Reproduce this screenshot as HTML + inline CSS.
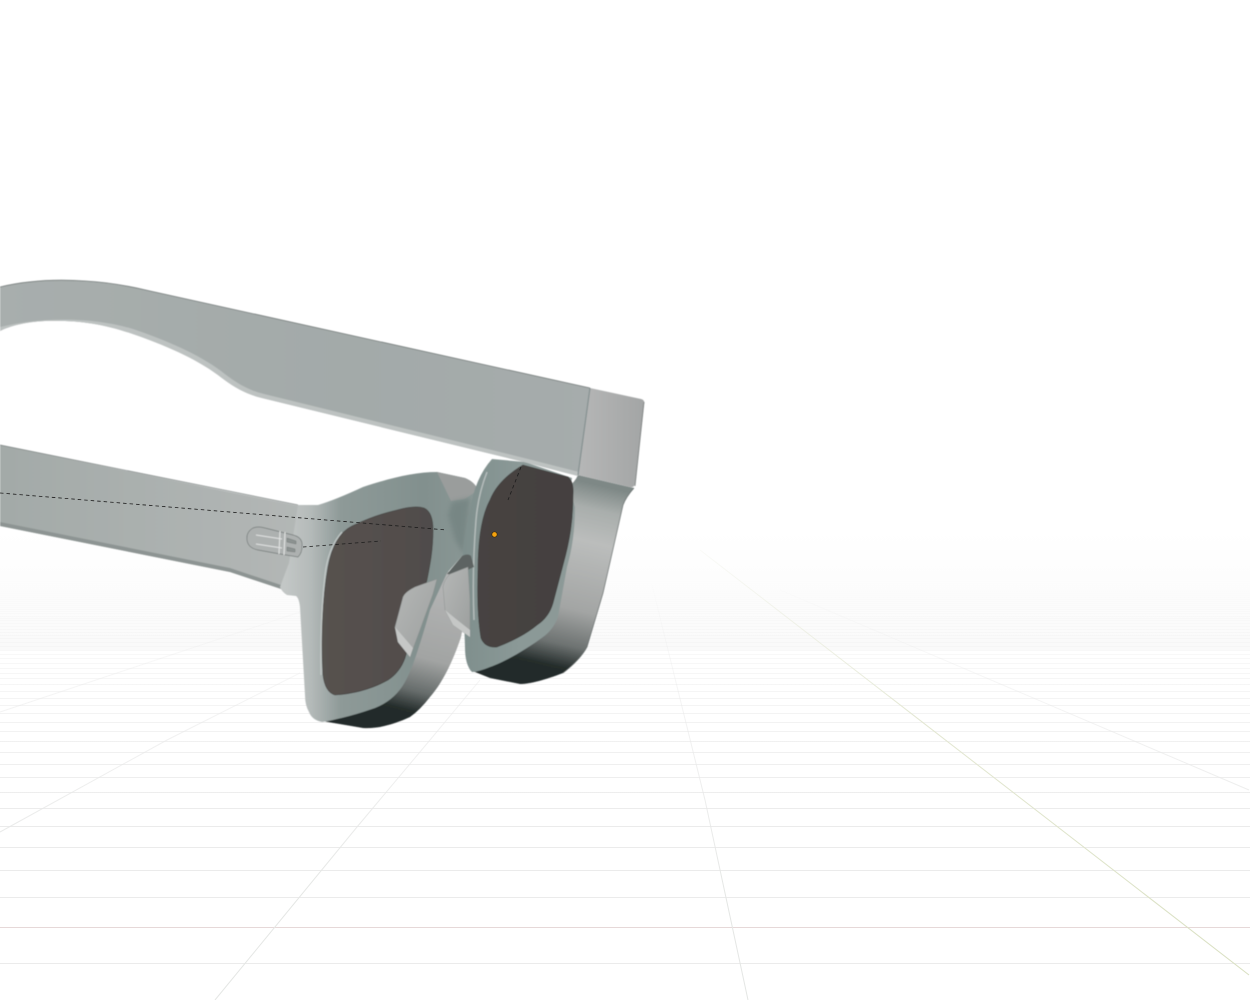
<!DOCTYPE html>
<html><head><meta charset="utf-8"><style>html,body{margin:0;padding:0;background:#fff}svg{display:block}</style></head>
<body>
<svg width="1250" height="1000" viewBox="0 0 1250 1000" xmlns="http://www.w3.org/2000/svg">
<defs>
<linearGradient id="fade" gradientUnits="userSpaceOnUse" x1="0" y1="575" x2="0" y2="830"><stop offset="0" stop-color="#efefef" stop-opacity="0"/><stop offset=".3" stop-color="#eee" stop-opacity=".4"/><stop offset=".7" stop-color="#eee" stop-opacity=".9"/><stop offset="1" stop-color="#ebebeb"/></linearGradient>
<linearGradient id="rad" gradientUnits="userSpaceOnUse" x1="0" y1="570" x2="0" y2="900"><stop offset="0" stop-color="#e8e8e8" stop-opacity="0"/><stop offset=".5" stop-color="#e8e8e8" stop-opacity=".6"/><stop offset="1" stop-color="#e4e6e4"/></linearGradient>
<linearGradient id="green" gradientUnits="userSpaceOnUse" x1="700" y1="550" x2="1249" y2="975"><stop offset="0" stop-color="#e8ebdc" stop-opacity=".2"/><stop offset=".4" stop-color="#e3e7d2"/><stop offset="1" stop-color="#d8dfc0"/></linearGradient>
<linearGradient id="haze" x1="0" y1="0" x2="0" y2="1"><stop offset="0" stop-color="#fff"/><stop offset="1" stop-color="#fafafa"/></linearGradient>
<linearGradient id="arm" x1="0" y1="0" x2="1" y2="0"><stop offset="0" stop-color="#a8aead"/><stop offset=".6" stop-color="#a3aaa9"/><stop offset="1" stop-color="#a6acac"/></linearGradient>
<linearGradient id="temple" x1="0" y1="0" x2="1" y2="0"><stop offset="0" stop-color="#a3aaa8"/><stop offset="1" stop-color="#b3b7b6"/></linearGradient>
<linearGradient id="cap" x1="0" y1="0" x2="1" y2="0"><stop offset="0" stop-color="#b6b7b7"/><stop offset="1" stop-color="#a3a5a5"/></linearGradient>
<linearGradient id="sideR" gradientUnits="userSpaceOnUse" x1="598" y1="485" x2="552" y2="684"><stop offset="0" stop-color="#7e8886"/><stop offset=".12" stop-color="#a9aeac"/><stop offset=".28" stop-color="#bbbdbc"/><stop offset=".62" stop-color="#a3a5a4"/><stop offset=".8" stop-color="#6d7271"/><stop offset=".91" stop-color="#252d2c"/><stop offset="1" stop-color="#222a29"/></linearGradient>
<linearGradient id="sideL" gradientUnits="userSpaceOnUse" x1="445" y1="590" x2="410" y2="728"><stop offset="0" stop-color="#b2b3b3"/><stop offset=".5" stop-color="#a2a4a3"/><stop offset=".74" stop-color="#666c6b"/><stop offset=".88" stop-color="#252d2c"/><stop offset="1" stop-color="#222a29"/></linearGradient>
<linearGradient id="frontL" gradientUnits="userSpaceOnUse" x1="285" y1="0" x2="470" y2="0"><stop offset="0" stop-color="#c3c7c6"/><stop offset=".14" stop-color="#b4bab9"/><stop offset=".3" stop-color="#8e9a98"/><stop offset=".75" stop-color="#82908e"/><stop offset="1" stop-color="#8a9795"/></linearGradient>
<linearGradient id="frontR" x1="0" y1="0" x2="1" y2="0"><stop offset="0" stop-color="#7f8f8d"/><stop offset=".5" stop-color="#8b9997"/><stop offset="1" stop-color="#8d9a98"/></linearGradient>
<linearGradient id="lensL" x1="0" y1="0" x2="1" y2="0"><stop offset="0" stop-color="#57524f"/><stop offset="1" stop-color="#504c4b"/></linearGradient>
<linearGradient id="lensR" x1="0" y1="0" x2="1" y2="0"><stop offset="0" stop-color="#474342"/><stop offset="1" stop-color="#444140"/></linearGradient>
<linearGradient id="pad" x1="0" y1="0" x2="1" y2="1"><stop offset="0" stop-color="#b5b7b6"/><stop offset="1" stop-color="#9c9f9e"/></linearGradient>
<filter id="soft" x="-5%" y="-5%" width="110%" height="110%"><feGaussianBlur stdDeviation=".5"/></filter>
<filter id="soft2" x="-30%" y="-30%" width="160%" height="160%"><feGaussianBlur stdDeviation="2.500"/></filter>
</defs>

<rect width="1250" height="1000" fill="#fff"/>
<rect y="530" width="1250" height="120" fill="url(#haze)"/>

<!-- floor grid -->
<g fill="none" stroke="url(#fade)" stroke-width="1">
<path d="M0 963.5H1250M0 897.5H1250M0 870.5H1250M0 847.5H1250M0 826.5H1250M0 808.5H1250M0 792.5H1250M0 777.5H1250M0 764.5H1250M0 752.5H1250M0 741.5H1250M0 731.5H1250M0 722.5H1250M0 713.5H1250M0 705.5H1250M0 698.5H1250M0 691.5H1250M0 684.5H1250M0 678.5H1250M0 673.5H1250M0 668.5H1250M0 663.5H1250M0 658.5H1250M0 654.5H1250M0 650.5H1250M0 646.5H1250M0 642.5H1250M0 638.5H1250M0 635.5H1250M0 632.5H1250M0 629.5H1250M0 626.5H1250M0 623.5H1250M0 620.5H1250M0 618.5H1250M0 616.5H1250M0 613.5H1250M0 611.5H1250M0 609.5H1250M0 607.5H1250M0 605.5H1250M0 603.5H1250M0 601.5H1250M0 599.5H1250M0 597.5H1250M0 595.5H1250M0 593.5H1250M0 591.5H1250M0 589.5H1250M0 587.5H1250M0 585.5H1250M0 583.5H1250M0 581.5H1250"/>
</g>
<path d="M0 927.5H1250" stroke="#e6d8d8" stroke-width="1"/>
<g fill="none" stroke="url(#rad)" stroke-width="1">
<path d="M215 1000L357 827L430 740L480 680"/>
<path d="M0 832L167 740L300 673"/>
<path d="M0 712L300 612"/>
<path d="M748 1000L705 800L652 585"/>
<path d="M1249 790L780 590"/>
</g>
<path d="M700 550L1249 975" stroke="url(#green)" stroke-width="1" fill="none"/>

<g filter="url(#soft)">
<!-- lower temple -->
<path d="M0 445L230 492L300 506L300 530L282 589L230 572L0 526Z" fill="url(#temple)"/>
<path d="M0 522L230 568L281 585L281 589L230 572L0 526Z" fill="#8d9493"/>
<path d="M0 445L298 505" stroke="#7c8382" stroke-width=".7" fill="none"/>

<!-- left rim side -->
<path d="M445 572L470 570L468 600L461 637C455 655 445 680 430 697Q420 710 410 717C395 724 378 729 363 728L322 721L380 690L425 620Z" fill="url(#sideL)"/>

<!-- right rim side -->
<path d="M568 487Q575 482 578 475L634 488Q626 497 623 505L603 593L587 647Q580 660 563 673C545 680 530 684 520 684L490 678L470 670L500 640L555 600Z" fill="url(#sideR)"/>
<path d="M634 488Q626 497 623 505L603 593L587 647Q580 660 563 673" fill="none" stroke="#666d6c" stroke-width=".7"/>

<!-- left frame front + bridge -->
<path d="M298 505L318 505Q335 500 363 487C390 478 415 472 437 472L465 478Q475 482 478 492L485 500L480 555L462 556L447 573L430 610C420 645 412 670 405 682Q395 700 375 708C355 715 335 720 322 722Q312 720 309 712Q305 705 305 695L300 607Q299 598 296 596L287 595Q282 592 280 587L289 563Z" fill="url(#frontL)"/>
<!-- top bridge facet -->
<path d="M437 472L465 478Q475 482 478 490L465 499L451 501Z" fill="#9a9d9c"/>
<path d="M452 502L470 498L464 555L455 540L448 515Z" fill="#728280" opacity=".75" filter="url(#soft2)"/>

<!-- right rim front -->
<path d="M492 459L525 462L572 478L570 490L575 507C575 530 572 550 567 567L558 617Q553 630 543 637C530 647 505 662 490 667Q478 672 472 672Q465 665 465 647L463 585L463 550Q466 525 470 510Q475 478 492 459Z" fill="url(#frontR)"/>
<path d="M487 472Q478 495 476 520Q472 570 474 620" stroke="#c0c5c4" stroke-width="1.400" fill="none" opacity=".85"/>
<!-- right lens -->
<path d="M523 465L568 477Q574 482 573 495C573 520 570 540 563 565L553 603Q549 617 537 625C525 635 510 642 497 647Q485 648 481 638C478 620 477 600 478 570C478 540 482 515 490 500Q498 480 523 465Z" fill="url(#lensR)" stroke="#3c3a39" stroke-width=".6"/>

<!-- left lens -->
<path d="M397 510Q415 505 424 508Q433 512 433 530C433 550 430 565 427 580L405 658Q400 672 388 680C370 690 350 694 335 695Q325 692 323 675C321 640 322 600 328 567C332 545 340 532 352 526Q375 515 397 510Z" fill="url(#lensL)" stroke="#403e3d" stroke-width=".6"/>
<path d="M342 532Q328 548 325 575Q320 620 321 675" stroke="#c6cbca" stroke-width="1.400" fill="none" opacity=".85"/>

<!-- nose connector -->
<path d="M462 556Q468 553 471 556L474 567L456 575L447 574Z" fill="#5d6362"/>
<!-- pads -->
<path d="M437 579L415 587Q405 592 403 597L395 627L398 642L410 657L420 630L433 594Z" fill="url(#pad)" stroke="#858a89" stroke-width=".4"/>
<path d="M395 627L398 642L410 657L413 648L401 634Z" fill="#c5c7c6"/>
<path d="M468 567L450 574Q444 580 443 587L445 610L453 625L470 637L470 600Z" fill="url(#pad)" stroke="#858a89" stroke-width=".4"/>
<path d="M445 610L453 625L470 637L470 630L456 619Z" fill="#c5c7c6"/>

<!-- hinge -->
<path d="M247 540Q246 532 253 528Q258 526 265 528L293 535Q301 537 302 543Q303 552 298 557L280 554L258 550Q248 548 247 540Z" fill="#adb1b0" stroke="#727877" stroke-width=".7"/>
<path d="M256 535L282 539M256 544L282 548M280 531L279 554M285 532L284 555" stroke="#e2e4e3" stroke-width="1.100" fill="none"/>
<path d="M287 538L296 541L296 544L287 542ZM287 547L295 549L295 552L287 551Z" fill="#8c9291" stroke="#666c6b" stroke-width=".4"/>

<!-- upper arm -->
<path d="M0 287C25 281 55 279 85 281C105 282 125 285 150 291L590 388L578 476L520 461L262 398C245 394 232 386 218 375C195 358 165 345 130 333C100 323 75 320 45 321C25 322 10 326 0 331Z" fill="url(#arm)"/>
<path d="M0 287C25 281 55 279 85 281C105 282 125 285 150 291L590 388" stroke="#747b7a" stroke-width=".8" fill="none"/>
<path d="M262 398L520 461L578 476L579 472L520 457L264 394C247 390 235 382 221 371C198 354 168 341 133 329C100 319 50 315 0 327L0 331C10 326 25 322 45 321C75 320 100 323 130 333C165 345 195 358 218 375C232 386 245 394 262 398Z" fill="#bdc2c1"/>
<!-- end cap -->
<path d="M590 388L641 399Q645 400 644 404L635 484Q634 488 630 487L578 475Z" fill="url(#cap)"/>
<path d="M590 388L578 475" stroke="#849090" stroke-width="1.200" fill="none"/>
<path d="M644 402L635 486" stroke="#737877" stroke-width=".8" fill="none"/>
</g>

<!-- dashed relationship lines -->
<g fill="none" stroke="#1c1c1c" stroke-width=".8" stroke-dasharray="3.5 3">
<path d="M0 493L447 530"/>
<path d="M303 547L381 541"/>
<path d="M521 467L508 500"/>
</g>
<circle cx="494.500" cy="534.500" r="2.700" fill="#f5a30f" stroke="#3a2a10" stroke-width=".7"/>
</svg>
</body></html>
